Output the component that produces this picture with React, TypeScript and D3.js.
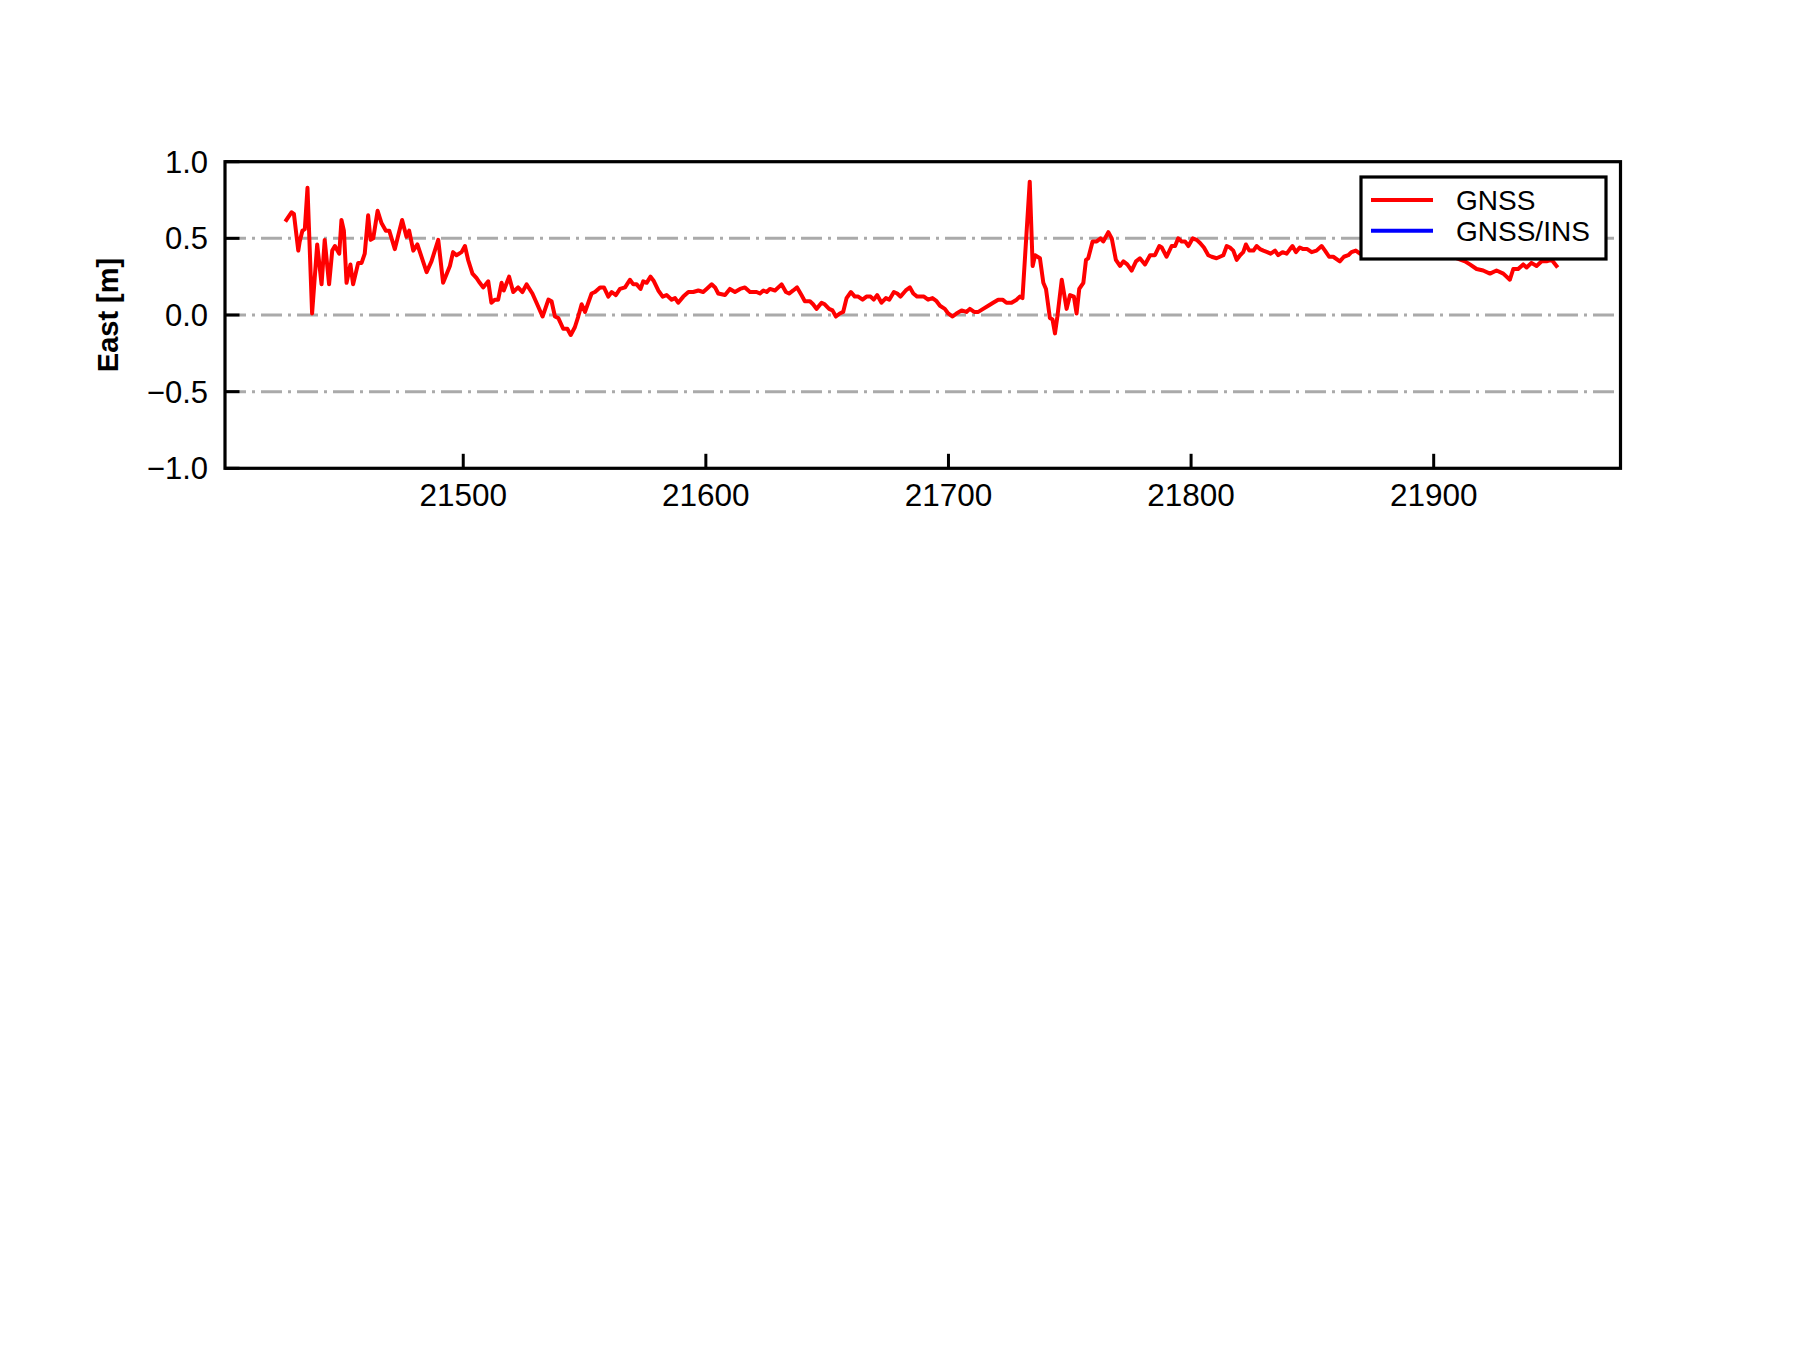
import React from "react";
import * as d3 from "d3";

const time: number[] = [
  21427.1, 21429.2, 21430.2, 21432.0, 21432.6, 21433.7, 21434.7, 21435.8, 21437.7, 21439.8,
  21441.6, 21442.9, 21444.7, 21446.0, 21447.1, 21448.9, 21449.8, 21450.8, 21451.9, 21453.5,
  21454.6, 21456.7, 21458.1, 21459.4, 21460.8, 21461.8, 21462.9, 21464.7, 21466.3, 21468.1,
  21469.5, 21471.8, 21474.8, 21476.6, 21477.7, 21479.4, 21481.1, 21484.9, 21486.9, 21489.7,
  21491.7, 21494.5, 21495.8, 21497.2, 21499.3, 21500.7, 21502.0, 21503.8, 21505.5, 21506.8,
  21508.2, 21510.3, 21511.6, 21513.0, 21514.4, 21515.8, 21516.7, 21518.9, 21520.6, 21522.6,
  21524.4, 21526.1, 21528.5, 21530.2, 21532.7, 21535.1, 21536.4, 21537.8, 21539.2, 21541.2,
  21542.9, 21544.3, 21546.0, 21547.4, 21548.8, 21550.2, 21552.9, 21554.3, 21556.4, 21558.0,
  21559.8, 21561.2, 21562.9, 21564.6, 21566.7, 21568.7, 21570.1, 21571.5, 21573.1, 21574.2,
  21575.6, 21577.2, 21578.6, 21580.4, 21582.2, 21583.8, 21585.9, 21587.3, 21588.6, 21590.7,
  21592.8, 21594.8, 21596.9, 21598.9, 21600.3, 21602.4, 21603.8, 21605.1, 21607.9, 21609.9,
  21612.0, 21614.1, 21616.1, 21618.2, 21620.9, 21622.3, 21623.7, 21625.1, 21626.4, 21628.5,
  21631.2, 21633.0, 21634.3, 21636.0, 21637.6, 21639.4, 21640.8, 21642.9, 21644.2, 21645.6,
  21647.7, 21649.0, 21650.8, 21652.2, 21653.6, 21655.2, 21656.6, 21658.0, 21659.8, 21661.4,
  21662.8, 21664.6, 21666.2, 21667.9, 21669.2, 21670.6, 21672.4, 21674.2, 21675.6, 21677.5,
  21678.9, 21680.2, 21682.4, 21684.1, 21685.5, 21687.1, 21689.9, 21691.6, 21693.4, 21695.1,
  21696.5, 21698.5, 21699.9, 21701.7, 21703.3, 21705.4, 21707.4, 21708.8, 21710.6, 21712.3,
  21714.3, 21716.4, 21718.4, 21720.5, 21722.3, 21723.9, 21726.0, 21728.1, 21729.4, 21730.5,
  21733.5, 21734.7, 21735.7, 21737.7, 21739.1, 21740.2, 21741.8, 21742.9, 21743.9, 21744.9,
  21746.7, 21748.7, 21750.1, 21751.7, 21752.8, 21753.9, 21755.6, 21756.7, 21757.6, 21759.4,
  21761.1, 21762.7, 21763.8, 21765.9, 21767.3, 21769.0, 21770.7, 21772.1, 21773.7, 21775.5,
  21777.3, 21778.9, 21781.0, 21783.1, 21785.1, 21786.9, 21787.9, 21789.9, 21792.0, 21793.4,
  21794.7, 21796.1, 21797.5, 21798.9, 21800.7, 21802.3, 21803.7, 21805.3, 21807.1, 21808.5,
  21810.5, 21811.9, 21813.3, 21814.7, 21816.0, 21817.4, 21818.8, 21820.2, 21821.5, 21822.6,
  21824.0, 21825.7, 21827.0, 21828.4, 21829.8, 21831.4, 21832.8, 21834.6, 21835.9, 21837.7,
  21839.4, 21840.8, 21841.8, 21843.2, 21844.8, 21846.2, 21847.9, 21849.7, 21851.7, 21853.8,
  21855.2, 21856.9, 21858.6, 21861.3, 21863.0, 21864.8, 21866.1, 21867.9, 21869.6, 21875.0,
  21882.0, 21890.0, 21898.0, 21906.0, 21912.9, 21914.9, 21917.7, 21920.4, 21923.2, 21925.9,
  21928.7, 21931.4, 21932.8, 21934.8, 21936.9, 21938.3, 21940.3, 21942.4, 21944.5, 21946.5,
  21948.6, 21950.6,
];

const eastGNSS: number[] = [
  0.62, 0.67, 0.66, 0.42, 0.48, 0.55, 0.56, 0.83, 0.01, 0.46,
  0.20, 0.49, 0.20, 0.42, 0.45, 0.40, 0.62, 0.55, 0.21, 0.33,
  0.20, 0.34, 0.34, 0.40, 0.65, 0.49, 0.50, 0.68, 0.60, 0.55,
  0.55, 0.43, 0.62, 0.51, 0.55, 0.42, 0.46, 0.28, 0.35, 0.49,
  0.21, 0.32, 0.41, 0.39, 0.41, 0.45, 0.36, 0.27, 0.24, 0.21,
  0.18, 0.22, 0.08, 0.10, 0.10, 0.21, 0.16, 0.25, 0.15, 0.18,
  0.15, 0.20, 0.14, 0.08, -0.01, 0.10, 0.09, -0.01, -0.02, -0.09,
  -0.09, -0.13, -0.08, -0.01, 0.07, 0.02, 0.14, 0.15, 0.18, 0.18,
  0.12, 0.15, 0.13, 0.17, 0.18, 0.23, 0.20, 0.20, 0.17, 0.22,
  0.21, 0.25, 0.22, 0.16, 0.12, 0.13, 0.10, 0.11, 0.08, 0.12,
  0.15, 0.15, 0.16, 0.15, 0.17, 0.20, 0.18, 0.14, 0.13, 0.17,
  0.15, 0.17, 0.18, 0.15, 0.15, 0.14, 0.16, 0.15, 0.17, 0.16,
  0.20, 0.15, 0.14, 0.16, 0.18, 0.13, 0.09, 0.09, 0.07, 0.04,
  0.08, 0.07, 0.04, 0.03, -0.01, 0.01, 0.02, 0.11, 0.15, 0.12,
  0.12, 0.10, 0.12, 0.12, 0.10, 0.13, 0.08, 0.11, 0.10, 0.15,
  0.14, 0.12, 0.16, 0.18, 0.14, 0.12, 0.12, 0.10, 0.11, 0.09,
  0.06, 0.04, 0.01, -0.01, 0.01, 0.03, 0.02, 0.04, 0.02, 0.02,
  0.04, 0.06, 0.08, 0.10, 0.10, 0.08, 0.08, 0.10, 0.12, 0.11,
  0.87, 0.32, 0.39, 0.37, 0.21, 0.17, -0.02, -0.03, -0.12, -0.01,
  0.23, 0.04, 0.13, 0.12, 0.01, 0.17, 0.21, 0.36, 0.37, 0.48,
  0.48, 0.50, 0.48, 0.54, 0.50, 0.36, 0.32, 0.35, 0.33, 0.29,
  0.35, 0.37, 0.33, 0.39, 0.39, 0.45, 0.44, 0.38, 0.45, 0.45,
  0.50, 0.48, 0.48, 0.45, 0.50, 0.49, 0.47, 0.44, 0.39, 0.38,
  0.37, 0.38, 0.39, 0.45, 0.44, 0.42, 0.36, 0.39, 0.41, 0.46,
  0.42, 0.42, 0.45, 0.43, 0.42, 0.41, 0.40, 0.42, 0.39, 0.41,
  0.40, 0.43, 0.45, 0.41, 0.44, 0.43, 0.43, 0.41, 0.42, 0.45,
  0.42, 0.38, 0.38, 0.35, 0.38, 0.39, 0.41, 0.42, 0.40, 0.42,
  0.40, 0.43, 0.41, 0.39, 0.35, 0.33, 0.30, 0.29, 0.27, 0.29,
  0.27, 0.23, 0.30, 0.30, 0.33, 0.31, 0.34, 0.32, 0.35, 0.35,
  0.36, 0.32,
];

const xTicks: number[] = [21500, 21600, 21700, 21800, 21900];
const yTicks: number[] = [-1.0, -0.5, 0.0, 0.5, 1.0];
const gridValues: number[] = [-0.5, 0.0, 0.5];
const legendLabels: string[] = ["GNSS", "GNSS/INS"];
const legendColors: string[] = ["#ff0000", "#0000ff"];

const FONT = "'Liberation Sans', Arial, Helvetica, sans-serif";

export default function App() {
  const W = 1800;
  const H = 1350;
  const left = 225;
  const right = 1620.5;
  const top = 161.7;
  const bottom = 468.3;

  const x = d3.scaleLinear().domain([21401.8, 21977.0]).range([left, right]);
  const y = d3.scaleLinear().domain([-1, 1]).range([bottom, top]);

  const pts: [number, number][] = time.map((t, i) => [t, eastGNSS[i]]);
  const lineGen = d3
    .line<[number, number]>()
    .x((d) => x(d[0]))
    .y((d) => y(d[1]));

  const fmtY = (v: number) => {
    const s = Math.abs(v).toFixed(1);
    return v < 0 ? "\u2212" + s : s;
  };

  const tickLen = 14.5;
  const lg = { x0: 1361, y0: 177, x1: 1606, y1: 259 };

  return (
    <div style={{ position: "absolute", left: 0, top: 0, width: W, height: H, background: "#fff" }}>
      <svg width={W} height={H} viewBox={`0 0 ${W} ${H}`} style={{ display: "block" }}>
        <rect x={0} y={0} width={W} height={H} fill="#ffffff" />
        <defs>
          <clipPath id="plotclip">
            <rect x={left} y={top} width={right - left} height={bottom - top} />
          </clipPath>
        </defs>
        {/* grid */}
        {gridValues.map((g) => (
          <line
            key={"g" + g}
            x1={left}
            x2={right}
            y1={y(g)}
            y2={y(g)}
            stroke="#aaaaaa"
            strokeWidth={3}
            strokeDasharray="21 6 3 6"
          />
        ))}
        {/* data */}
        <path
          d={lineGen(pts) || ""}
          fill="none"
          stroke="#ff0000"
          strokeWidth={4}
          strokeLinejoin="round"
          strokeLinecap="square"
          clipPath="url(#plotclip)"
        />
        {/* ticks */}
        {yTicks.map((v) => (
          <line key={"yt" + v} x1={left} x2={left + tickLen} y1={y(v)} y2={y(v)} stroke="#000" strokeWidth={3} />
        ))}
        {xTicks.map((v) => (
          <line key={"xt" + v} x1={x(v)} x2={x(v)} y1={bottom} y2={bottom - tickLen} stroke="#000" strokeWidth={3} />
        ))}
        {/* frame */}
        <rect
          x={left}
          y={top}
          width={right - left}
          height={bottom - top}
          fill="none"
          stroke="#000"
          strokeWidth={3.2}
          strokeLinejoin="miter"
        />
        {/* tick labels */}
        {yTicks.map((v) => (
          <text
            key={"yl" + v}
            x={208}
            y={y(v) + 11}
            textAnchor="end"
            fontFamily={FONT}
            fontSize={31}
            fill="#000"
          >
            {fmtY(v)}
          </text>
        ))}
        {xTicks.map((v) => (
          <text
            key={"xl" + v}
            x={x(v)}
            y={505.5}
            textAnchor="middle"
            fontFamily={FONT}
            fontSize={31.5}
            fill="#000"
          >
            {String(v)}
          </text>
        ))}
        {/* y label */}
        <text
          transform={`translate(118,${(top + bottom) / 2}) rotate(-90)`}
          textAnchor="middle"
          fontFamily={FONT}
          fontWeight="bold"
          fontSize={29}
          fill="#000"
        >
          East [m]
        </text>
        {/* legend */}
        <rect
          x={lg.x0}
          y={lg.y0}
          width={lg.x1 - lg.x0}
          height={lg.y1 - lg.y0}
          fill="#ffffff"
          stroke="#000"
          strokeWidth={3.2}
        />
        {legendLabels.map((lab, i) => {
          const cy = 200 + i * 30.7;
          return (
            <g key={"lg" + lab}>
              <line x1={1371} x2={1433} y1={cy} y2={cy} stroke={legendColors[i]} strokeWidth={4} />
              <text x={1456} y={cy + 10} fontFamily={FONT} fontSize={28} fill="#000">
                {lab}
              </text>
            </g>
          );
        })}
      </svg>
    </div>
  );
}
